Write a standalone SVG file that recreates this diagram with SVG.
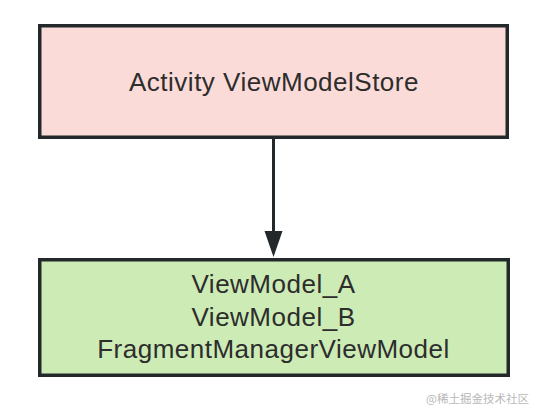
<svg xmlns="http://www.w3.org/2000/svg" width="542" height="416" viewBox="0 0 542 416">
<style>
.box{stroke:#23282b;stroke-width:3.5}
.lbl{font-family:"Liberation Sans",Arial,sans-serif;font-size:26px;letter-spacing:0.5px;fill:#2d2d2d;text-anchor:middle}
.wm{font-family:"Noto Sans CJK SC","Liberation Sans",sans-serif;font-size:11.5px;fill:#b8b8b8;text-anchor:end}
</style>
<rect width="542" height="416" fill="#ffffff"/>
<g id="connectors">
<line x1="273.5" y1="139" x2="273.5" y2="233" stroke="#23282b" stroke-width="3"/>
<polygon points="264.5,231 282.5,231 273.5,257" fill="#23282b"/>
</g>
<g id="store">
<rect class="box" x="39.75" y="25.75" width="467.5" height="111.5" fill="#fadbd8"/>
<text class="lbl" x="274" y="91">Activity ViewModelStore</text>
</g>
<g id="viewmodels">
<rect class="box" x="39.75" y="259.75" width="468.5" height="115.5" fill="#cdebb5"/>
<text class="lbl" x="273.5" y="293">ViewModel_A</text>
<text class="lbl" x="273.5" y="325.5">ViewModel_B</text>
<text class="lbl" x="273.5" y="358">FragmentManagerViewModel</text>
</g>
<text class="wm" x="529" y="402.5">@稀土掘金技术社区</text>
</svg>
